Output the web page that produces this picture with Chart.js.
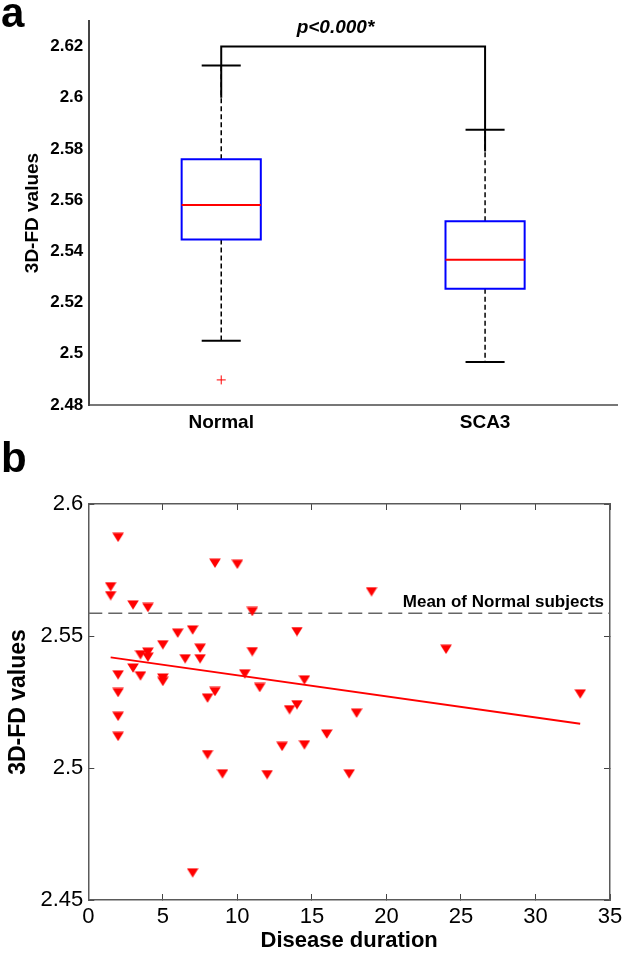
<!DOCTYPE html>
<html><head><meta charset="utf-8">
<script src="https://cdn.jsdelivr.net/npm/chart.js@4.4.1/dist/chart.umd.min.js"></script>
<style>
html,body{margin:0;padding:0;background:#fff;}
body{width:625px;height:954px;position:relative;overflow:hidden;font-family:'Liberation Sans',Arial,sans-serif;}
#ca{position:absolute;left:0;top:0;}
#cb{position:absolute;left:0;top:430px;}
.pl{position:absolute;left:1px;font:bold 42px/42px 'Liberation Sans',Arial,sans-serif;color:#000;}
</style></head><body>
<canvas id="ca" width="625" height="440"></canvas>
<canvas id="cb" width="625" height="524"></canvas>
<div class="pl" style="top:-8.5px">a</div>
<div class="pl" style="top:436.5px">b</div>
<script>
// ---------- Panel a data (box plot) ----------
const categories = ['Normal', 'SCA3'];
const whiskerHigh = [2.6126, 2.5875];
const q3 = [2.5760, 2.5518];
const median = [2.5581, 2.5367];
const q1 = [2.5446, 2.5254];
const whiskerLow = [2.5051, 2.4968];
const outlierCat = [0];
const outlierVal = [2.4898];
const bracketY = 2.62;
const bracketEnds = [2.600, 2.579];
const pText = 'p<0.000*';
const yTicksA = [2.48, 2.5, 2.52, 2.54, 2.56, 2.58, 2.6, 2.62];

// ---------- Panel b data (scatter) ----------
const duration = [1.5,1.5,2,2,2,2,2,3,3,3.5,3.5,4,4,4,5,5,5,6,6.5,7,7,7.5,7.5,8,8,8.5,8.5,9,10,10.5,11,11,11.5,12,13,13.5,14,14,14.5,14.5,16,17.5,18,19,24,33];
const fdValues = [2.5687,2.5653,2.5874,2.5353,2.5286,2.5196,2.5120,2.5618,2.5379,2.5429,2.5349,2.5608,2.5439,2.5420,2.5467,2.5341,2.5328,2.5511,2.5414,2.5523,2.4603,2.5454,2.5414,2.5265,2.5051,2.5776,2.5290,2.4978,2.5772,2.5357,2.5593,2.5441,2.5305,2.4975,2.5082,2.5221,2.5517,2.5240,2.5334,2.5088,2.5129,2.4978,2.5208,2.5668,2.5450,2.5281];
const fitX = [1.5, 33];
const fitY = [2.5419, 2.5168];
const normalMean = 2.5586;
const meanLabel = 'Mean of Normal subjects';
const xTicksB = [0, 5, 10, 15, 20, 25, 30, 35];
const yTicksB = [2.45, 2.5, 2.55, 2.6];

const FF = "'Liberation Sans', Arial, sans-serif";
const fmt = v => String(+Number(v).toFixed(2));
const noPad = s => { s.paddingLeft = 0; s.paddingRight = 0; s.paddingTop = 0; s.paddingBottom = 0; };

// ---------- Panel a ----------
const boxHalf = 0.15, capHalf = 0.074;
const lineDs = (pts, color, width, dash) => ({
  data: pts, showLine: true, pointRadius: 0, borderColor: color, borderWidth: width,
  borderDash: dash || [], fill: false, tension: 0, borderJoinStyle: 'miter', borderCapStyle: 'butt'
});
const dsA = [];
categories.forEach((c, i) => {
  const x = i + 1;
  const box = lineDs([
    {x: x - boxHalf, y: q1[i]}, {x: x + boxHalf, y: q1[i]}, {x: x + boxHalf, y: q3[i]},
    {x: x - boxHalf, y: q3[i]}, {x: x - boxHalf, y: q1[i]}], '#0000ff', 2);
  box.borderCapStyle = 'square';
  dsA.push(lineDs([{x: x - boxHalf, y: median[i]}, {x: x + boxHalf, y: median[i]}], '#ff0000', 2));
  dsA.push(box);
  dsA.push(lineDs([{x: x, y: q3[i]}, {x: x, y: whiskerHigh[i]}], '#000', 1.5, [5, 3]));
  dsA.push(lineDs([{x: x, y: q1[i]}, {x: x, y: whiskerLow[i]}], '#000', 1.5, [5, 3]));
  dsA.push(lineDs([{x: x - capHalf, y: whiskerHigh[i]}, {x: x + capHalf, y: whiskerHigh[i]}], '#000', 2));
  dsA.push(lineDs([{x: x - capHalf, y: whiskerLow[i]}, {x: x + capHalf, y: whiskerLow[i]}], '#000', 2));
});
dsA.push({
  data: outlierVal.map((v, k) => ({x: outlierCat[k] + 1, y: v})),
  showLine: false, pointStyle: 'cross', pointRadius: 4.5, borderColor: '#ff0000', borderWidth: 1
});
dsA.push(lineDs([{x: 1, y: bracketEnds[0]}, {x: 1, y: bracketY}, {x: 2, y: bracketY}, {x: 2, y: bracketEnds[1]}], '#000', 2));

const pLabelPlugin = {
  id: 'pLabel',
  afterDatasetsDraw(chart) {
    const {ctx, scales: {x, y}} = chart;
    ctx.save();
    ctx.font = 'italic bold 19px ' + FF;
    ctx.fillStyle = '#000';
    ctx.textAlign = 'center';
    ctx.textBaseline = 'alphabetic';
    ctx.fillText(pText, x.getPixelForValue(1.433), y.getPixelForValue(bracketY) - 14);
    ctx.restore();
  }
};

new Chart(document.getElementById('ca'), {
  type: 'scatter',
  data: {datasets: dsA},
  plugins: [pLabelPlugin],
  options: {
    responsive: false, animation: false,
    layout: {padding: {top: 21, right: 8, left: 0, bottom: 0}},
    plugins: {legend: {display: false}, tooltip: {enabled: false}},
    scales: {
      x: {
        type: 'linear', min: 0.5, max: 2.5,
        afterBuildTicks: s => { s.ticks = categories.map((c, i) => ({value: i + 1})); },
        afterFit: s => { s.height = 35; noPad(s); },
        ticks: {callback: v => categories[Math.round(v) - 1] || '', color: '#000', padding: 6,
                font: {family: FF, size: 19, weight: 'bold'}, maxRotation: 0, autoSkip: false},
        grid: {display: false, drawTicks: false},
        border: {display: true, color: '#777', width: 2}
      },
      y: {
        type: 'linear', min: 2.48, max: 2.63,
        afterBuildTicks: s => { s.ticks = yTicksA.map(v => ({value: v})); },
        afterFit: s => { s.width = 89.3; noPad(s); },
        ticks: {callback: v => fmt(v), color: '#000', padding: 6,
                font: {family: FF, size: 17, weight: 'bold'}},
        grid: {display: false, drawTicks: false},
        border: {display: true, color: '#444', width: 2},
        title: {display: true, text: '3D-FD values', color: '#000',
                font: {family: FF, size: 19, weight: 'bold'}, padding: {top: 21.6, bottom: 0}}
      }
    }
  }
});

// ---------- Panel b ----------
const tri = document.createElement('canvas');
tri.width = 12; tri.height = 10;
(() => {
  const t = tri.getContext('2d');
  t.fillStyle = '#ff0000';
  t.beginPath(); t.moveTo(0.2, 0.4); t.lineTo(11.8, 0.4); t.lineTo(6, 9.7); t.closePath(); t.fill();
})();

const meanLabelPlugin = {
  id: 'meanLabel',
  afterDatasetsDraw(chart) {
    const {ctx, chartArea, scales: {y}} = chart;
    ctx.save();
    ctx.font = 'bold 17px ' + FF;
    ctx.fillStyle = '#000';
    ctx.textAlign = 'right';
    ctx.textBaseline = 'alphabetic';
    ctx.fillText(meanLabel, chartArea.right - 6, y.getPixelForValue(normalMean) - 6.5);
    ctx.restore();
  }
};

const frameGrid = {display: true, drawOnChartArea: false, drawTicks: true, tickLength: -6, color: '#444', lineWidth: 1};
const frameBorder = {display: true, color: '#5a5a5a', width: 1.5};

new Chart(document.getElementById('cb'), {
  type: 'scatter',
  data: {
    datasets: [
      {data: duration.map((d, i) => ({x: d, y: fdValues[i]})), pointStyle: tri, pointRadius: 6, showLine: false,
       backgroundColor: '#ff0000', borderColor: '#ff0000'},
      lineDs(fitX.map((v, i) => ({x: v, y: fitY[i]})), '#ff0000', 2),
      lineDs([{x: xTicksB[0], y: normalMean}, {x: xTicksB[xTicksB.length - 1], y: normalMean}], '#666', 1.5, [14, 6])
    ]
  },
  plugins: [meanLabelPlugin],
  options: {
    responsive: false, animation: false,
    layout: {padding: {top: 74, right: 0, left: 0, bottom: 0}},
    plugins: {legend: {display: false}, tooltip: {enabled: false}},
    scales: {
      x: {
        type: 'linear', position: 'bottom', min: 0, max: 35,
        afterBuildTicks: s => { s.ticks = xTicksB.map(v => ({value: v})); },
        afterFit: s => { s.height = 54; noPad(s); },
        ticks: {color: '#000', padding: 10, font: {family: FF, size: 22}, maxRotation: 0, autoSkip: false},
        grid: frameGrid, border: frameBorder,
        title: {display: true, text: 'Disease duration', color: '#000',
                font: {family: FF, size: 22, weight: 'bold'}, padding: {top: 0, bottom: 0}}
      },
      x2: {
        type: 'linear', position: 'top', min: 0, max: 35,
        afterBuildTicks: s => { s.ticks = xTicksB.map(v => ({value: v})); },
        afterFit: s => { s.height = 0; noPad(s); },
        ticks: {display: false}, grid: frameGrid, border: frameBorder
      },
      y: {
        type: 'linear', position: 'left', min: 2.45, max: 2.6,
        afterBuildTicks: s => { s.ticks = yTicksB.map(v => ({value: v})); },
        afterFit: s => { s.width = 88.3; noPad(s); },
        ticks: {callback: v => fmt(v), color: '#000', padding: 11, font: {family: FF, size: 22}},
        grid: frameGrid, border: frameBorder,
        title: {display: true, text: '3D-FD values', color: '#000',
                font: {family: FF, size: 23, weight: 'bold'}, padding: {top: 4.6, bottom: 0}}
      },
      y2: {
        type: 'linear', position: 'right', min: 2.45, max: 2.6,
        afterBuildTicks: s => { s.ticks = yTicksB.map(v => ({value: v})); },
        afterFit: s => { s.width = 15; noPad(s); },
        ticks: {display: false}, grid: frameGrid, border: frameBorder
      }
    }
  }
});
</script>
</body></html>
